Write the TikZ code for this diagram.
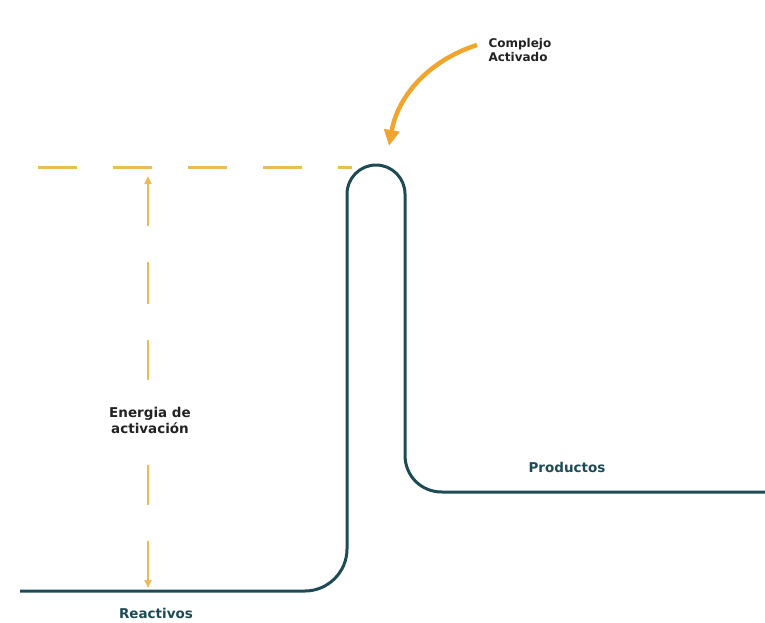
\documentclass[tikz,border=0pt]{standalone}
\usepackage{fontspec}
\setmainfont{DejaVu Sans}
\usetikzlibrary{arrows.meta}
\definecolor{tealdark}{HTML}{1E4A55}
\definecolor{dashorange}{HTML}{EDBB55}
\definecolor{arrorange}{HTML}{F0A52E}
\definecolor{txtdark}{HTML}{222222}
\tikzset{
  curve/.style={draw=tealdark, line width=3pt, line join=round},
  guide/.style={draw=dashorange, line width=3pt, dash pattern=on 39pt off 36pt},
  vguide/.style={draw=dashorange, line width=2.5pt},
  lbl/.style={font=\bfseries\fontsize{13.5}{16}\selectfont, text=txtdark, align=center, inner sep=2pt},
  tlbl/.style={font=\bfseries\fontsize{13.5}{16}\selectfont, text=tealdark, inner sep=0pt},
}
\begin{document}
\begin{tikzpicture}[x=1pt,y=-1pt]
\useasboundingbox (0,0) rectangle (765,622);
% energy curve
\coordinate (s) at (20,591);
\coordinate (e) at (765,492);
\draw[curve] (s) -- (305,591) .. controls (328,591) and (347,572) .. (347,549)
  -- (347,194) .. controls (347,178) and (360,165) .. (376,165)
  .. controls (392,165) and (405,178) .. (405,194)
  -- (405,455) .. controls (405,476) and (421,492) .. (442,492) -- (e);
% horizontal dashed guide
\coordinate (hl) at (38,167);
\coordinate (hr) at (352,167);
\draw[guide] (hl) -- (hr);
% labels
\node[lbl] (ea) at (150,420) {Energia de\\activación};
\node[font=\bfseries\fontsize{12}{14}\selectfont, text=txtdark, align=left, anchor=west] (ca) at (485,50) {Complejo\\Activado};
\node[tlbl] (pr) at (567,467) {Productos};
\node[tlbl] (re) at (156,613) {Reactivos};
% vertical dashed arrow
\coordinate (vt) at (148,176);
\coordinate (vb) at (148,588);
\coordinate (vm1) at (148,380);
\coordinate (vm2) at (148,465);
\draw[vguide, dash pattern=on 42pt off 36pt, {Triangle[width=7pt,length=8pt]}-] (vt) -- (vm1);
\draw[vguide, dash pattern=on 40pt off 36pt, -{Triangle[width=7pt,length=8pt]}] (vm2) -- (vb);
% curved arrow to activated complex
\coordinate (cs) at (477,45);
\coordinate (ce) at (389,146);
\draw[arrorange, line width=4.5pt, -{Triangle[width=15pt,length=16pt]}] (cs) .. controls (430,60) and (398,95) .. (ce);
\end{tikzpicture}
\end{document}
